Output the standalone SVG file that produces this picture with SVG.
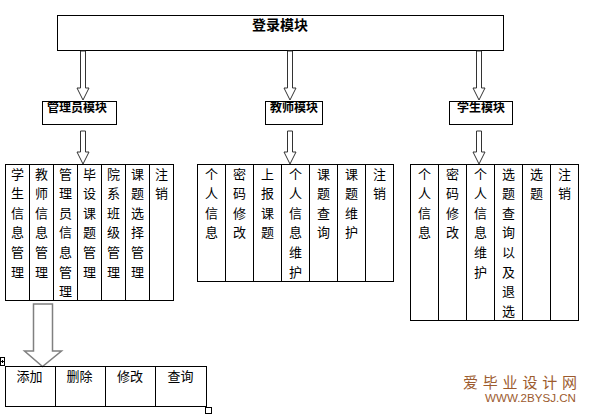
<svg xmlns="http://www.w3.org/2000/svg" width="590" height="415" viewBox="0 0 590 415">
<style>
.box{fill:#fff;stroke:#000;stroke-width:1}
.cell{fill:none;stroke:#000;stroke-width:1}
.arr{fill:#fff;stroke:#333;stroke-width:1}
.big{fill:#fff;stroke:#808080;stroke-width:1.5}
.t{font-family:"Noto Sans CJK SC","Noto Sans CJK JP",sans-serif;font-size:13px;fill:#000;text-anchor:middle}
.h{font-family:"Noto Sans CJK SC","Noto Sans CJK JP",sans-serif;font-size:12px;font-weight:bold;fill:#000;text-anchor:middle}
.wm{font-family:"Noto Sans CJK SC",sans-serif;fill:#9c5b2e}
</style>
<rect width="590" height="415" fill="#fff"/>
<g id="login">
<rect class="box" x="57.5" y="15.5" width="446" height="35"/>
<text class="h" style="font-size:14px" x="280" y="30">登录模块</text>
</g>
<g id="connectors">
<path class="arr" d="M80.5,51 V88 H77 L83,100 L89,88 H85.5 V51 Z"/>
<path class="arr" d="M287.5,51 V88 H284 L290,100 L296,88 H292.5 V51 Z"/>
<path class="arr" d="M476.5,51 V88 H473 L479,100 L485,88 H481.5 V51 Z"/>
<path class="arr" d="M80.5,131 V152 H77 L83,164 L89,152 H85.5 V131 Z"/>
<path class="arr" d="M287.5,131 V152 H284 L290,164 L296,152 H292.5 V131 Z"/>
<path class="arr" d="M476.5,131 V152 H473 L479,164 L485,152 H481.5 V131 Z"/>
<path class="big" d="M33.5,304 V351 H24.5 L42.5,366.5 L61.5,351 H52.5 V304 Z"/>
</g>
<g id="admin">
<rect class="box" x="42.5" y="101.5" width="74" height="23"/>
<text class="h" x="77" y="112">管理员模块</text>
</g>
<g id="teacher">
<rect class="box" x="265.5" y="101.5" width="57" height="23"/>
<text class="h" x="294" y="112">教师模块</text>
</g>
<g id="student">
<rect class="box" x="449.5" y="101.5" width="63" height="23"/>
<text class="h" x="481" y="112">学生模块</text>
</g>
<g id="admin-table">
<rect class="cell" x="5.5" y="164.5" width="168" height="136"/>
<path class="cell" d="M29.5,164.5V300.5M53.5,164.5V300.5M77.5,164.5V300.5M101.5,164.5V300.5M125.5,164.5V300.5M149.5,164.5V300.5"/>
<text class="t"><tspan x="17.5" y="178.5">学</tspan><tspan x="17.5" dy="19.6">生</tspan><tspan x="17.5" dy="19.6">信</tspan><tspan x="17.5" dy="19.6">息</tspan><tspan x="17.5" dy="19.6">管</tspan><tspan x="17.5" dy="19.6">理</tspan></text>
<text class="t"><tspan x="41.5" y="178.5">教</tspan><tspan x="41.5" dy="19.6">师</tspan><tspan x="41.5" dy="19.6">信</tspan><tspan x="41.5" dy="19.6">息</tspan><tspan x="41.5" dy="19.6">管</tspan><tspan x="41.5" dy="19.6">理</tspan></text>
<text class="t"><tspan x="65.5" y="178.5">管</tspan><tspan x="65.5" dy="19.6">理</tspan><tspan x="65.5" dy="19.6">员</tspan><tspan x="65.5" dy="19.6">信</tspan><tspan x="65.5" dy="19.6">息</tspan><tspan x="65.5" dy="19.6">管</tspan><tspan x="65.5" dy="19.6">理</tspan></text>
<text class="t"><tspan x="89.5" y="178.5">毕</tspan><tspan x="89.5" dy="19.6">设</tspan><tspan x="89.5" dy="19.6">课</tspan><tspan x="89.5" dy="19.6">题</tspan><tspan x="89.5" dy="19.6">管</tspan><tspan x="89.5" dy="19.6">理</tspan></text>
<text class="t"><tspan x="113.5" y="178.5">院</tspan><tspan x="113.5" dy="19.6">系</tspan><tspan x="113.5" dy="19.6">班</tspan><tspan x="113.5" dy="19.6">级</tspan><tspan x="113.5" dy="19.6">管</tspan><tspan x="113.5" dy="19.6">理</tspan></text>
<text class="t"><tspan x="137.5" y="178.5">课</tspan><tspan x="137.5" dy="19.6">题</tspan><tspan x="137.5" dy="19.6">选</tspan><tspan x="137.5" dy="19.6">择</tspan><tspan x="137.5" dy="19.6">管</tspan><tspan x="137.5" dy="19.6">理</tspan></text>
<text class="t"><tspan x="161.5" y="178.5">注</tspan><tspan x="161.5" dy="19.6">销</tspan></text>
</g>
<g id="teacher-table">
<rect class="cell" x="197.5" y="164.5" width="196" height="117"/>
<path class="cell" d="M225.5,164.5V281.5M253.5,164.5V281.5M281.5,164.5V281.5M309.5,164.5V281.5M337.5,164.5V281.5M365.5,164.5V281.5"/>
<text class="t"><tspan x="211.5" y="178.5">个</tspan><tspan x="211.5" dy="19.6">人</tspan><tspan x="211.5" dy="19.6">信</tspan><tspan x="211.5" dy="19.6">息</tspan></text>
<text class="t"><tspan x="239.5" y="178.5">密</tspan><tspan x="239.5" dy="19.6">码</tspan><tspan x="239.5" dy="19.6">修</tspan><tspan x="239.5" dy="19.6">改</tspan></text>
<text class="t"><tspan x="267.5" y="178.5">上</tspan><tspan x="267.5" dy="19.6">报</tspan><tspan x="267.5" dy="19.6">课</tspan><tspan x="267.5" dy="19.6">题</tspan></text>
<text class="t"><tspan x="295.5" y="178.5">个</tspan><tspan x="295.5" dy="19.6">人</tspan><tspan x="295.5" dy="19.6">信</tspan><tspan x="295.5" dy="19.6">息</tspan><tspan x="295.5" dy="19.6">维</tspan><tspan x="295.5" dy="19.6">护</tspan></text>
<text class="t"><tspan x="323.5" y="178.5">课</tspan><tspan x="323.5" dy="19.6">题</tspan><tspan x="323.5" dy="19.6">查</tspan><tspan x="323.5" dy="19.6">询</tspan></text>
<text class="t"><tspan x="351.5" y="178.5">课</tspan><tspan x="351.5" dy="19.6">题</tspan><tspan x="351.5" dy="19.6">维</tspan><tspan x="351.5" dy="19.6">护</tspan></text>
<text class="t"><tspan x="379.5" y="178.5">注</tspan><tspan x="379.5" dy="19.6">销</tspan></text>
</g>
<g id="student-table">
<rect class="cell" x="410.5" y="164.5" width="168" height="156"/>
<path class="cell" d="M438.5,164.5V320.5M466.5,164.5V320.5M494.5,164.5V320.5M522.5,164.5V320.5M550.5,164.5V320.5"/>
<text class="t"><tspan x="424.5" y="178.5">个</tspan><tspan x="424.5" dy="19.6">人</tspan><tspan x="424.5" dy="19.6">信</tspan><tspan x="424.5" dy="19.6">息</tspan></text>
<text class="t"><tspan x="452.5" y="178.5">密</tspan><tspan x="452.5" dy="19.6">码</tspan><tspan x="452.5" dy="19.6">修</tspan><tspan x="452.5" dy="19.6">改</tspan></text>
<text class="t"><tspan x="480.5" y="178.5">个</tspan><tspan x="480.5" dy="19.6">人</tspan><tspan x="480.5" dy="19.6">信</tspan><tspan x="480.5" dy="19.6">息</tspan><tspan x="480.5" dy="19.6">维</tspan><tspan x="480.5" dy="19.6">护</tspan></text>
<text class="t"><tspan x="508.5" y="178.5">选</tspan><tspan x="508.5" dy="19.6">题</tspan><tspan x="508.5" dy="19.6">查</tspan><tspan x="508.5" dy="19.6">询</tspan><tspan x="508.5" dy="19.6">以</tspan><tspan x="508.5" dy="19.6">及</tspan><tspan x="508.5" dy="19.6">退</tspan><tspan x="508.5" dy="19.6">选</tspan></text>
<text class="t"><tspan x="536.5" y="178.5">选</tspan><tspan x="536.5" dy="19.6">题</tspan></text>
<text class="t"><tspan x="564.5" y="178.5">注</tspan><tspan x="564.5" dy="19.6">销</tspan></text>
</g>
<g id="ops-table">
<rect class="cell" x="5.5" y="366.5" width="201" height="40"/>
<path class="cell" d="M55.5,366.5V406.5M105.5,366.5V406.5M155.5,366.5V406.5"/>
<text class="t" x="29.5" y="381">添加</text>
<text class="t" x="79.5" y="381">删除</text>
<text class="t" x="130" y="381">修改</text>
<text class="t" x="180.5" y="381">查询</text>
<rect class="cell" x="0.5" y="357.5" width="4" height="8"/>
<path class="cell" d="M1,361.5H4M2.5,360V363" stroke-width="0.8"/>
<rect class="cell" x="205.5" y="407.5" width="6" height="6"/>
</g>
<g id="watermark">
<text class="wm" x="463" y="387.5" font-size="15" textLength="114" lengthAdjust="spacing">爱毕业设计网</text>
<text x="485" y="401.5" font-family="Liberation Sans, Arial, sans-serif" font-size="10" fill="#9c5b2e" textLength="91" lengthAdjust="spacingAndGlyphs">WWW.2BYSJ.CN</text>
</g>
</svg>
